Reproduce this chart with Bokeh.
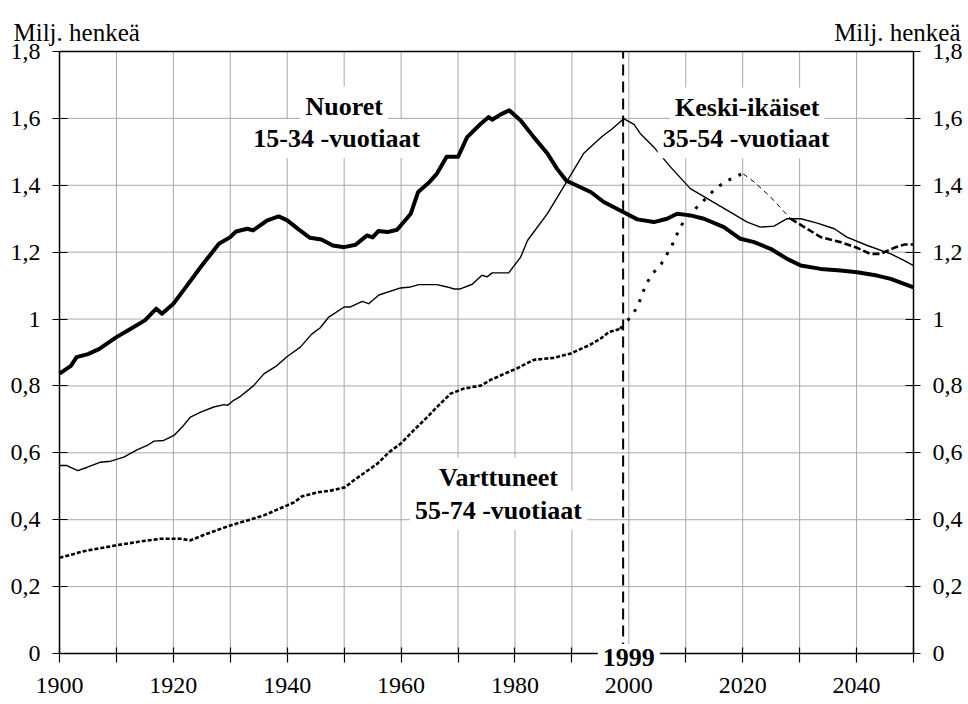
from bokeh.plotting import figure
from bokeh.models import Range1d, FixedTicker, LinearAxis, Label
from bokeh.embed import file_html
from bokeh.resources import INLINE

# ---------------- data ----------------
nuoret_years = [1900, 1902, 1903, 1905, 1907, 1910, 1912, 1915, 1917, 1918, 1920, 1922, 1925,
                1928, 1930, 1931, 1933, 1934, 1936.5, 1938.5, 1940, 1942, 1944, 1946, 1948, 1950,
                1952, 1953, 1954, 1955, 1956, 1957.6, 1959.3, 1961.7, 1963, 1965, 1966.3, 1968,
                1970, 1971.6, 1974, 1975.4, 1976, 1977.5, 1979, 1981, 1983.3, 1985.7, 1987.4,
                1989, 1990, 1993.3, 1995.6, 1999, 2001.5, 2004.4, 2006.7, 2008.5, 2010.8, 2013.2,
                2016.7, 2019.6, 2022, 2024.9, 2027.8, 2030.2, 2033.7, 2037.2, 2040.1, 2043.6,
                2046, 2050]
nuoret_vals = [0.837, 0.86, 0.886, 0.895, 0.911, 0.946, 0.966, 0.996, 1.031, 1.016, 1.046, 1.091, 1.160,
               1.225, 1.245, 1.262, 1.27, 1.265, 1.295, 1.307, 1.295, 1.268, 1.243, 1.238, 1.22, 1.215,
               1.222, 1.236, 1.25, 1.244, 1.263, 1.26, 1.267, 1.315, 1.38, 1.41, 1.435, 1.485,
               1.485, 1.544, 1.584, 1.604, 1.596, 1.612, 1.624, 1.594, 1.544, 1.495, 1.449,
               1.414, 1.406, 1.38, 1.35, 1.32, 1.298, 1.29, 1.30, 1.315, 1.31, 1.30,
               1.275, 1.24, 1.23, 1.21, 1.18, 1.16, 1.15, 1.145, 1.14, 1.13,
               1.12, 1.095]

keski_years = [1900, 1901.3, 1903.2, 1904.9, 1907.2, 1909, 1911.3, 1913.6, 1915.4, 1916.6, 1918.3,
               1920.1, 1921.8, 1923, 1924.8, 1927.1, 1928.9, 1929.5, 1930.6, 1931.8, 1934.1, 1935.9,
               1938.2, 1940, 1942.3, 1944.3, 1945.8, 1947.3, 1950, 1951, 1953.2, 1954.3, 1956.1,
               1959.9, 1961.7, 1963.1, 1966.3, 1968.1, 1969.3, 1970.4, 1972.5, 1974.2, 1975.1, 1976,
               1978.9, 1981, 1982.2, 1985.7, 1989.2, 1992.1, 1993.9, 1995.3, 1997.1, 1999.1, 2000.9,
               2002, 2004.4, 2007.3, 2010.8, 2013.8, 2017.3, 2020.8, 2023.1, 2025.5, 2027.8,
               2030.2, 2033.1, 2036.1, 2038.3, 2041.9, 2046, 2048.4, 2050]
keski_vals = [0.562, 0.562, 0.547, 0.557, 0.572, 0.575, 0.587, 0.609, 0.622, 0.635, 0.637,
              0.652, 0.682, 0.707, 0.722, 0.737, 0.744, 0.742, 0.757, 0.769, 0.801, 0.836,
              0.861, 0.888, 0.916, 0.955, 0.974, 1.006, 1.036, 1.036, 1.053, 1.046, 1.072,
              1.093, 1.096, 1.103, 1.103, 1.096, 1.09, 1.09, 1.104, 1.131, 1.126, 1.138,
              1.138, 1.185, 1.235, 1.315, 1.414, 1.496, 1.524, 1.546, 1.569, 1.599, 1.582,
              1.555, 1.514, 1.455, 1.39, 1.36, 1.325, 1.29, 1.275, 1.278, 1.30,
              1.30, 1.287, 1.27, 1.245, 1.22, 1.195, 1.175, 1.16]

vart_years = [1900, 1904.3, 1909.8, 1914.2, 1917.7, 1921.5, 1922.9, 1925.9, 1930, 1933, 1935.9,
              1940, 1941.2, 1942.6, 1945.3, 1947.6, 1950.2, 1951.7, 1955.8, 1957.9, 1959.9,
              1962.2, 1964.6, 1966.3, 1968.7, 1971, 1974, 1975.7, 1978.1, 1980.4, 1983.3, 1986.8,
              1989.8, 1993.3, 1995, 1996.5, 1998.5, 2000.3, 2001.5, 2002.4, 2003.1, 2004.4, 2005.7,
              2007.5, 2008.2, 2009.7, 2012, 2013.8, 2015.2, 2017.3, 2019.6, 2020.1, 2022, 2024.9,
              2028.4, 2031.3, 2033.7, 2037.2, 2040.1, 2042.4, 2044.2, 2046.6, 2048.4, 2050]
vart_vals = [0.286, 0.306, 0.323, 0.335, 0.343, 0.343, 0.338, 0.358, 0.383, 0.398, 0.413,
             0.443, 0.452, 0.47, 0.482, 0.487, 0.497, 0.518, 0.567, 0.602, 0.627,
             0.667, 0.707, 0.737, 0.777, 0.792, 0.801, 0.818, 0.836, 0.853, 0.878, 0.884,
             0.897, 0.924, 0.941, 0.961, 0.971, 1.006, 1.036, 1.076, 1.107, 1.14, 1.165,
             1.217, 1.245, 1.295, 1.335, 1.365, 1.39, 1.414, 1.432, 1.434, 1.41, 1.365,
             1.30, 1.27, 1.245, 1.23, 1.213, 1.195, 1.195, 1.213, 1.223, 1.223]
# year boundaries where the drawing style of the Varttuneet line changes
vart_breaks = [1900, 1998.5, 2020.1, 2028.4, 2050]
vart_styles = [(2.6, "4 2"), (3.0, "3 8"), (1.0, "5 4"), (2.6, "7 3")]

x_ticks = [1900, 1910, 1920, 1930, 1940, 1950, 1960, 1970, 1980, 1990, 2000, 2010, 2020, 2030, 2040, 2050]
x_tick_labels = ["1900", "", "1920", "", "1940", "", "1960", "", "1980", "", "2000", "", "2020", "", "2040", ""]
y_ticks = [0, 0.2, 0.4, 0.6, 0.8, 1, 1.2, 1.4, 1.6, 1.8]
y_tick_labels = ["0", "0,2", "0,4", "0,6", "0,8", "1", "1,2", "1,4", "1,6", "1,8"]
base_year = 1999
unit_label = "Milj. henkeä"

FONT = "Liberation Serif"

# ---------------- layout (pixels inside the canvas) ----------------
W, H = 966, 702
F_LEFT, F_RIGHT, F_TOP, F_BOTTOM = 59, 913, 51, 653
x0, x1 = x_ticks[0], x_ticks[-1]
y0, y1 = y_ticks[0], y_ticks[-1]
sx = (F_RIGHT - F_LEFT) / (x1 - x0)
sy = (F_BOTTOM - F_TOP) / (y1 - y0)

p = figure(width=W, height=H,
           x_range=Range1d(x0 - F_LEFT / sx, x1 + (W - F_RIGHT) / sx),
           y_range=Range1d(y0 - (H - F_BOTTOM) / sy, y1 + F_TOP / sy),
           output_backend="svg", toolbar_location=None,
           x_axis_location=None, y_axis_location=None,
           min_border=0, min_border_left=0, min_border_right=0,
           min_border_top=0, min_border_bottom=0)
p.background_fill_color = "white"
p.border_fill_color = "white"
p.outline_line_color = None
for g in p.grid:
    g.visible = False

xt = FixedTicker(ticks=x_ticks)
yt = FixedTicker(ticks=y_ticks)
GRID = "#a8a8a8"

# grid lines limited to the plot box
n = len(x_ticks)
p.segment(x0=x_ticks, y0=[y0] * n, x1=x_ticks, y1=[y1] * n, line_color=GRID, line_width=1)
m = len(y_ticks)
p.segment(x0=[x0] * m, y0=y_ticks, x1=[x1] * m, y1=y_ticks, line_color=GRID, line_width=1)
# top border of the plot box
p.segment(x0=[x0], y0=[y1], x1=[x1], y1=[y1], line_color="black", line_width=1.5)

# axes drawn at the edges of the plot box
ya = LinearAxis(ticker=yt, fixed_location=x0, bounds=(y0, y1))
ra = LinearAxis(ticker=yt, fixed_location=x1, bounds=(y0, y1))
xa = LinearAxis(ticker=xt, fixed_location=y0, bounds=(x0, x1))
ya.major_label_overrides = {t: l for t, l in zip(y_ticks, y_tick_labels)}
ra.major_label_overrides = {t: l for t, l in zip(y_ticks, y_tick_labels)}
xa.major_label_overrides = {t: l for t, l in zip(x_ticks, x_tick_labels)}
p.add_layout(ya, "left")
p.add_layout(ra, "right")
p.add_layout(xa, "below")

for ax in (xa, ya, ra):
    ax.axis_line_color = "black"
    ax.axis_line_width = 1.5
    ax.major_tick_line_color = "black"
    ax.major_tick_line_width = 1.2
    ax.minor_tick_line_color = None
    ax.major_label_text_font = FONT
    ax.major_label_text_font_size = "24px"
    ax.major_label_text_color = "black"
xa.major_tick_in = 6
xa.major_tick_out = 9
xa.major_label_standoff = 15
for ax in (ya, ra):
    ax.major_tick_in = 8
    ax.major_tick_out = 7
    ax.major_label_standoff = 12

# ---------------- series ----------------
p.line(keski_years, keski_vals, line_color="black", line_width=1.4, line_join="round")
p.line(nuoret_years, nuoret_vals, line_color="black", line_width=4, line_join="round")

for (a, b), (lw, dash) in zip(zip(vart_breaks[:-1], vart_breaks[1:]), vart_styles):
    xs = [x for x in vart_years if a <= x <= b]
    ys = [v for x, v in zip(vart_years, vart_vals) if a <= x <= b]
    p.line(xs, ys, line_color="black", line_width=lw, line_dash=dash)

# reference year line
p.segment(x0=[base_year], y0=[y0], x1=[base_year], y1=[y1], line_color="black",
          line_width=2, line_dash="11 6")


def lab(x, y, text, size="26px", bold=True, bg=True, align="center", xo=0):
    kw = dict(x=x, y=y, text=text, text_font=FONT, text_font_size=size,
              text_font_style="bold" if bold else "normal", text_color="black",
              text_align=align, text_baseline="alphabetic", x_offset=xo)
    if bg:
        kw.update(background_fill_color="white", padding=5)
    p.add_layout(Label(**kw))


lab(1950, 1.636, "Nuoret")
lab(1948.7, 1.540, "15-34 -vuotiaat")
lab(2020.8, 1.634, "Keski-ikäiset")
lab(2020.6, 1.539, "35-54 -vuotiaat")
lab(1977.1, 0.527, "Varttuneet")
lab(1977.1, 0.428, "55-74 -vuotiaat")
lab(2000, -0.012, str(base_year), size="26px")

title_y = y1 + 19 / sy
lab(x0, title_y, unit_label, size="25px", bold=False, bg=False, align="left", xo=-46)
lab(x1, title_y, unit_label, size="25px", bold=False, bg=False, align="right", xo=47)

open("out.html", "w").write(file_html(p, INLINE))
